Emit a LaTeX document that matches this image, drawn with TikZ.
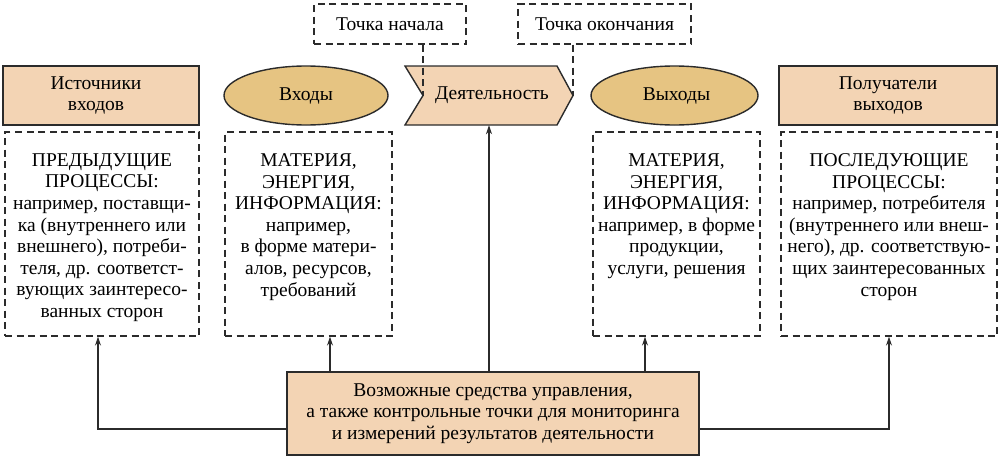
\documentclass[tikz,border=0pt]{standalone}
\usepackage{fontspec}
\setmainfont{Liberation Serif}
\usetikzlibrary{shapes.geometric,arrows.meta}
\definecolor{peach}{HTML}{F3D4B4}
\definecolor{gold}{HTML}{E6C482}
\definecolor{edge}{HTML}{2B2B2B}
\begin{document}
\begin{tikzpicture}[x=1pt,y=-1pt,
  base/.style={font=\fontsize{19.5}{21.6}\selectfont, align=center, inner sep=0pt, text=black},
  solidbox/.style={base, draw=edge, line width=1.4pt, fill=peach},
  ovalbox/.style={base, ellipse, draw=edge, line width=1.4pt, fill=gold},
  dbox/.style={draw=edge, line width=1.3pt, dash pattern=on 7pt off 4.5pt, inner sep=0pt},
  txt/.style={base, anchor=north},
  arr/.style={draw=edge, line width=1.2pt, -{Stealth[length=9pt,width=6pt]}},
  link/.style={draw=edge, line width=1.3pt, dash pattern=on 7pt off 4.5pt}]
\useasboundingbox (0,0) rectangle (1001,458);

% top row
\node[solidbox, minimum width=196pt, minimum height=59pt] (src) at (101,95.5) {Источники\hspace*{10pt}\\входов\hspace*{10pt}};
\node[ovalbox, minimum width=164pt, minimum height=59pt] (inp) at (306,95.5) {Входы};
\draw[draw=edge, line width=1.4pt, fill=peach] (405,66) -- (557,66) -- (573,95.5) -- (557,125) -- (405,125) -- (423,95.5) -- cycle;
\coordinate (notch) at (423,95.5);
\coordinate (tip) at (573,95.5);
\node[base, minimum width=168pt, minimum height=59pt] (act) at (489,95.5) {\hspace*{6pt}Деятельность};
\node[ovalbox, minimum width=167pt, minimum height=59pt] (out) at (674.5,95.5) {\hspace*{4pt}Выходы};
\node[solidbox, minimum width=218pt, minimum height=59pt] (rcp) at (888,95.5) {Получатели\\выходов};

% start / end points
\node[base, dbox, minimum width=152pt, minimum height=40pt] (start) at (390,24) {Точка начала};
\node[base, dbox, minimum width=173pt, minimum height=40pt] (end) at (604.5,24) {Точка окончания};
\draw[link] (start.south -| notch) -- (notch);
\draw[link] (end.south -| tip) -- (tip);

% dashed content boxes
\node[dbox, minimum width=194pt, minimum height=204pt] (d1) at (102,234) {};
\node[dbox, minimum width=167pt, minimum height=204pt] (d2) at (308.5,234) {};
\node[dbox, minimum width=167pt, minimum height=204pt] (d3) at (676.5,234) {};
\node[dbox, minimum width=216pt, minimum height=204pt] (d4) at (889,234) {};

\node[txt] (d1t) at ([yshift=-22pt]d1.north) {ПРЕДЫДУЩИЕ\\ПРОЦЕССЫ:\\например, поставщи-\\ка (внутреннего или\\внешнего), потреби-\\теля, др. соответст-\\вующих заинтересо-\\ванных сторон};
\node[txt] (d2t) at ([yshift=-22pt]d2.north) {МАТЕРИЯ,\\ЭНЕРГИЯ,\\ИНФОРМАЦИЯ:\\например,\\в форме матери-\\алов, ресурсов,\\требований};
\node[txt] (d3t) at ([yshift=-22pt]d3.north) {МАТЕРИЯ,\\ЭНЕРГИЯ,\\ИНФОРМАЦИЯ:\\например, в форме\\продукции,\\услуги, решения};
\node[txt] (d4t) at ([yshift=-22pt]d4.north) {ПОСЛЕДУЮЩИЕ\\ПРОЦЕССЫ:\\например, потребителя\\(внутреннего или внеш-\\него), др. соответствую-\\щих заинтересованных\\сторон};

% control box
\node[solidbox, minimum width=412pt, minimum height=83pt] (ctrl) at (493,413.5) {Возможные средства управления,\\а также контрольные точки для мониторинга\\и измерений результатов деятельности};

% arrows
\coordinate (a2) at ([xshift=21.5pt]d2.south);
\coordinate (a3) at ([xshift=-31.5pt]d3.south);
\draw[arr] ([yshift=-15.5pt]ctrl.west) -| ([xshift=-4pt]d1.south);
\draw[arr] (a2 |- ctrl.north) -- (a2);
\draw[arr] (act.south |- ctrl.north) -- (act.south);
\draw[arr] (a3 |- ctrl.north) -- (a3);
\draw[arr] ([yshift=-15.5pt]ctrl.east) -| (d4.south);
\end{tikzpicture}
\end{document}
